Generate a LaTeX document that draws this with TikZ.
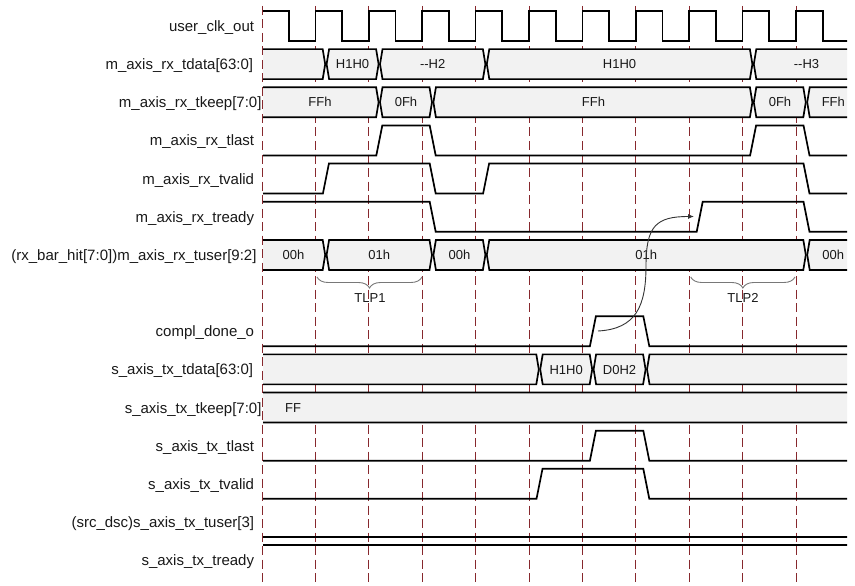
\documentclass[tikz,border=0pt]{standalone}
\usepackage{fontspec}
\setmainfont{Liberation Sans}
\usetikzlibrary{decorations.pathreplacing,arrows.meta}
\definecolor{gridred}{RGB}{135,40,45}
\definecolor{busgray}{RGB}{242,242,242}
\definecolor{txt}{RGB}{25,25,25}
\definecolor{bracegray}{RGB}{120,120,120}
\tikzset{
  wave/.style={line width=1.7bp, black, line join=miter},
  busfill/.style={fill=busgray},
  busline/.style={line width=1.7bp, black, line join=miter},
  gridline/.style={gridred, line width=1.4bp, dash pattern=on 9bp off 4.5bp},
  siglabel/.style={anchor=base east, font=\fontsize{15bp}{18bp}\selectfont, text=txt, inner sep=0pt},
  bustext/.style={anchor=base, font=\fontsize{13bp}{15bp}\selectfont, text=txt, inner sep=0pt},
  bracestyle/.style={decorate, decoration={brace, mirror, amplitude=11bp}, bracegray, line width=0.9bp},
  flowarrow/.style={-{Latex[length=6bp,width=5bp]}, line width=0.9bp, black!80}
}
% bus segment between two transition centres
\newcommand\busseg[2]{%
  \fill[busfill] (#1+0.7,0) -- (#1+3.2,-15) -- (#2-3.2,-15) -- (#2-0.7,0) -- (#2-3.2,15) -- (#1+3.2,15) -- cycle;
  \draw[busline] (#1+0.7,0) -- (#1+3.2,-15) -- (#2-3.2,-15) -- (#2-0.7,0) -- (#2-3.2,15) -- (#1+3.2,15) -- cycle;}
\begin{document}
\begin{tikzpicture}[x=1bp,y=-1bp]
\useasboundingbox (0,0) rectangle (855,586);
\fill[white] (0,0) rectangle (855,586);

% grid lines (snapped to pixel centres)
\foreach \gx in {262.5,315.5,368.5,422.5,475.5,529.5,582.5,635.5,689.5,742.5,796.5}
  \draw[gridline] (\gx,6) -- (\gx,586);

% signal labels
\node[siglabel] (l0)  at (254.3,31.5)   {user\_clk\_out};
\node[siglabel] (l1)  at (253.3,69.7)   {m\_axis\_rx\_tdata[63:0]};
\node[siglabel] (l2)  at (261.7,107.8)  {m\_axis\_rx\_tkeep[7:0]};
\node[siglabel] (l3)  at (254.3,146.0)  {m\_axis\_rx\_tlast};
\node[siglabel] (l4)  at (254.3,184.1)  {m\_axis\_rx\_tvalid};
\node[siglabel] (l5)  at (254.3,222.3)  {m\_axis\_rx\_tready};
\node[siglabel] (l6)  at (256.7,260.4)  {(rx\_bar\_hit[7:0])m\_axis\_rx\_tuser[9:2]};
\node[siglabel] (l8)  at (254.3,336.7)  {compl\_done\_o};
\node[siglabel] (l9)  at (253.3,374.9)  {s\_axis\_tx\_tdata[63:0]};
\node[siglabel] (l10) at (261.7,413.0)  {s\_axis\_tx\_tkeep[7:0]};
\node[siglabel] (l11) at (254.3,451.2)  {s\_axis\_tx\_tlast};
\node[siglabel] (l12) at (254.3,489.3)  {s\_axis\_tx\_tvalid};
\node[siglabel] (l13) at (254.3,527.5)  {(src\_dsc)s\_axis\_tx\_tuser[3]};
\node[siglabel] (l14) at (254.3,565.6)  {s\_axis\_tx\_tready};

\begin{scope}
\clip (263,0) rectangle (847,586);

% user_clk_out
\begin{scope}[shift={(0,26)}]
\draw[wave] (255,-15) \foreach \k in {0,...,11} { -- ({262+53.4*\k+26.7},-15) -- ({262+53.4*\k+26.7},15) -- ({262+53.4*(\k+1)},15) -- ({262+53.4*(\k+1)},-15) };
\end{scope}

% m_axis_rx_tdata
\begin{scope}[shift={(0,64.15)}]
\busseg{250}{325.9}\busseg{325.9}{379.3}\busseg{379.3}{486.1}\busseg{486.1}{753.1}\busseg{753.1}{860}
\node[bustext] (d1) at (352.6,4.7) {H1H0};
\node[bustext] (d2) at (432.7,4.7) {{-}{-}H2};
\node[bustext] (d3) at (619.6,4.7) {H1H0};
\node[bustext] (d4) at (806.5,4.7) {{-}{-}H3};
\end{scope}

% m_axis_rx_tkeep
\begin{scope}[shift={(0,102.3)}]
\busseg{250}{379.3}\busseg{379.3}{432.7}\busseg{432.7}{753.1}\busseg{753.1}{806.5}\busseg{806.5}{860}
\node[bustext] (k1) at (320,4.7) {FFh};
\node[bustext] (k2) at (406,4.7) {0Fh};
\node[bustext] (k3) at (593.5,4.7) {FFh};
\node[bustext] (k4) at (780,4.7) {0Fh};
\node[bustext] (k5) at (833.3,4.7) {FFh};
\end{scope}

% m_axis_rx_tlast
\begin{scope}[shift={(0,140.45)}]
\draw[wave] (255,15) -- (376.3,15) -- (382.3,-15) -- (429.7,-15) -- (435.7,15) -- (750.1,15) -- (756.1,-15) -- (803.5,-15) -- (809.5,15) -- (860,15);
\end{scope}

% m_axis_rx_tvalid
\begin{scope}[shift={(0,178.6)}]
\draw[wave] (255,15) -- (322.9,15) -- (328.9,-15) -- (429.7,-15) -- (435.7,15) -- (483.1,15) -- (489.1,-15) -- (803.5,-15) -- (809.5,15) -- (860,15);
\end{scope}

% m_axis_rx_tready
\begin{scope}[shift={(0,216.75)}]
\draw[wave] (255,-15) -- (429.7,-15) -- (435.7,15) -- (696.7,15) -- (702.7,-15) -- (803.5,-15) -- (809.5,15) -- (860,15);
\end{scope}

% m_axis_rx_tuser
\begin{scope}[shift={(0,254.9)}]
\busseg{250}{325.9}\busseg{325.9}{432.7}\busseg{432.7}{486.1}\busseg{486.1}{806.5}\busseg{806.5}{860}
\node[bustext] (u1) at (293.5,4.7) {00h};
\node[bustext] (u2) at (379.3,4.7) {01h};
\node[bustext] (u3) at (459.4,4.7) {00h};
\node[bustext] (u4) at (646.3,4.7) {01h};
\node[bustext] (u5) at (833.3,4.7) {00h};
\end{scope}

% compl_done_o
\begin{scope}[shift={(0,331.2)}]
\draw[wave] (255,15) -- (589.9,15) -- (595.9,-15) -- (643.3,-15) -- (649.3,15) -- (860,15);
\end{scope}

% s_axis_tx_tdata
\begin{scope}[shift={(0,369.35)}]
\busseg{250}{539.5}\busseg{539.5}{592.9}\busseg{592.9}{646.3}\busseg{646.3}{860}
\node[bustext] (t1) at (566.2,4.7) {H1H0};
\node[bustext] (t2) at (619.6,4.7) {D0H2};
\end{scope}

% s_axis_tx_tkeep
\begin{scope}[shift={(0,407.5)}]
\busseg{250}{860}
\node[bustext] (t3) at (293,4.7) {FF};
\end{scope}

% s_axis_tx_tlast
\begin{scope}[shift={(0,445.65)}]
\draw[wave] (255,15) -- (589.9,15) -- (595.9,-15) -- (643.3,-15) -- (649.3,15) -- (860,15);
\end{scope}

% s_axis_tx_tvalid
\begin{scope}[shift={(0,483.8)}]
\draw[wave] (255,15) -- (536.5,15) -- (542.5,-15) -- (643.3,-15) -- (649.3,15) -- (860,15);
\end{scope}

% s_axis_tx_tuser[3]
\begin{scope}[shift={(0,521.95)}]
\draw[wave] (255,15) -- (860,15);
\end{scope}

% s_axis_tx_tready
\begin{scope}[shift={(0,560.1)}]
\draw[wave] (255,-15) -- (860,-15);
\end{scope}
\end{scope}

% braces
\coordinate (b1s) at (317,277);
\coordinate (b1e) at (422,277);
\coordinate (b2s) at (690.7,277);
\coordinate (b2e) at (795,277);
\draw[bracestyle] (b1s) -- (b1e);
\draw[bracestyle] (b2s) -- (b2e);
\node[bustext] (tlp1) at (370,302) {TLP1};
\node[bustext] (tlp2) at (743,302) {TLP2};

% causal arrow
\coordinate (cdStart) at (598,331);
\coordinate (cdMid) at (646,266);
\coordinate (rdyEnd) at (694,216.5);
\draw[flowarrow] (cdStart) .. controls (636,329) and (646,306) .. (cdMid) .. controls (646,226) and (656,216.5) .. (rdyEnd);
\end{tikzpicture}
\end{document}
